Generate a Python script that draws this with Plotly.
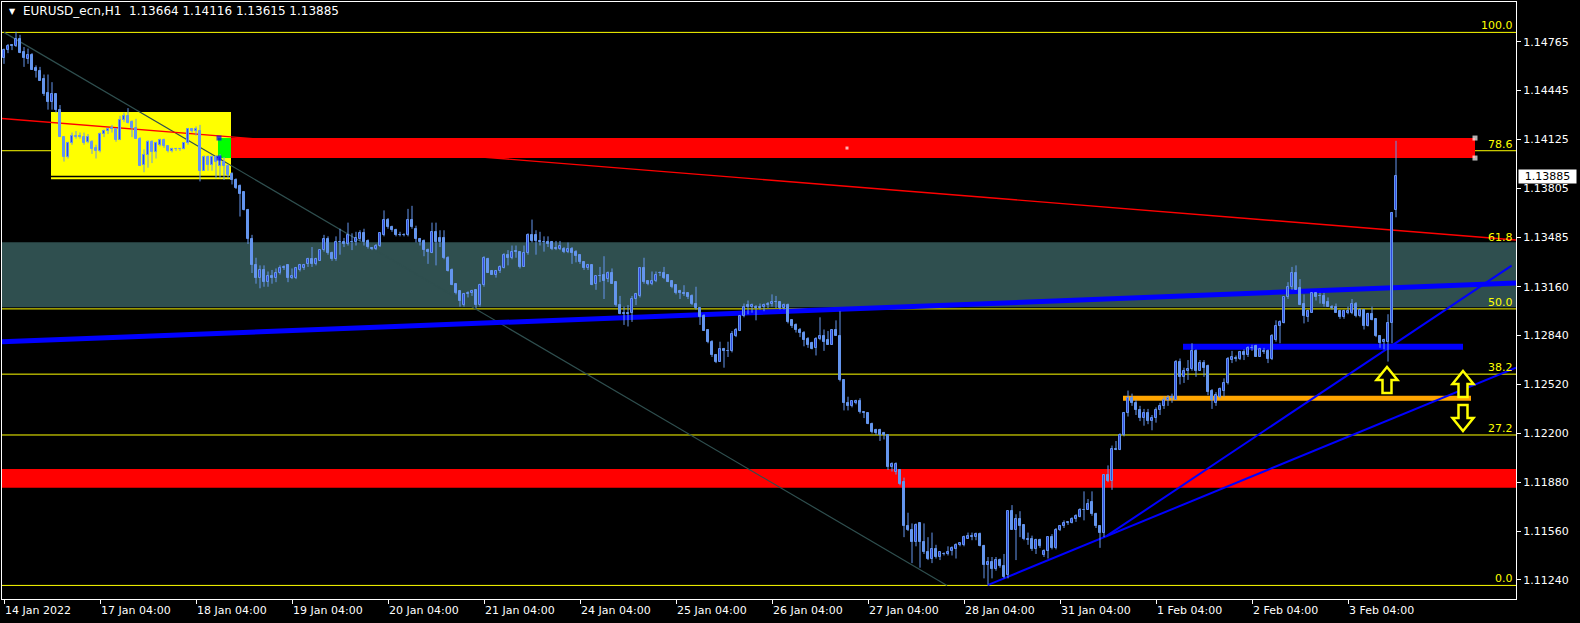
import plotly.graph_objects as go

# ---------------- data (EURUSD_ecn, H1) ----------------
opens = [
    1.1466, 1.1471, 1.1474, 1.1474, 1.1478, 1.1470, 1.1465, 1.1468, 1.1459, 1.1457,
    1.1452, 1.1443, 1.1437, 1.1442, 1.1432, 1.1414, 1.1401, 1.1410, 1.1415, 1.1414,
    1.1414, 1.1411, 1.1411, 1.1407, 1.1405, 1.1416, 1.1418, 1.1419, 1.1419, 1.1412,
    1.1425, 1.1428, 1.1424, 1.1420, 1.1413, 1.1396, 1.1402, 1.1411, 1.1404, 1.1409,
    1.1412, 1.1408, 1.1405, 1.1406, 1.1406, 1.1406, 1.1410, 1.1419, 1.1418, 1.1418,
    1.1392, 1.1401, 1.1396, 1.1401, 1.1395, 1.1398, 1.1395, 1.1390, 1.1386, 1.1382,
    1.1378, 1.1366, 1.1347, 1.1330, 1.1322, 1.1327, 1.1319, 1.1323, 1.1322, 1.1325,
    1.1328, 1.1330, 1.1322, 1.1322, 1.1327, 1.1328, 1.1331, 1.1334, 1.1331, 1.1333,
    1.1340, 1.1347, 1.1338, 1.1334, 1.1345, 1.1345, 1.1344, 1.1345, 1.1345, 1.1347,
    1.1351, 1.1346, 1.1341, 1.1341, 1.1343, 1.1350, 1.1360, 1.1355, 1.1353, 1.1350,
    1.1350, 1.1350, 1.1360, 1.1354, 1.1347, 1.1346, 1.1340, 1.1338, 1.1352, 1.1348,
    1.1348, 1.1335, 1.1327, 1.1318, 1.1313, 1.1304, 1.1311, 1.1312, 1.1314, 1.1304,
    1.1317, 1.1334, 1.1326, 1.1324, 1.1326, 1.1328, 1.1337, 1.1335, 1.1339, 1.1339,
    1.1329, 1.1338, 1.1350, 1.1350, 1.1346, 1.1345, 1.1345, 1.1345, 1.1341, 1.1341,
    1.1341, 1.1339, 1.1341, 1.1339, 1.1337, 1.1332, 1.1328, 1.1330, 1.1318, 1.1323,
    1.1324, 1.1321, 1.1325, 1.1319, 1.1304, 1.1298, 1.1298, 1.1299, 1.1308, 1.1310,
    1.1328, 1.1320, 1.1318, 1.1320, 1.1325, 1.1325, 1.1324, 1.1320, 1.1317, 1.1313,
    1.1312, 1.1312, 1.1310, 1.1305, 1.1302, 1.1297, 1.1288, 1.1280, 1.1271, 1.1267,
    1.1275, 1.1274, 1.1274, 1.1284, 1.1287, 1.1297, 1.1304, 1.1303, 1.1303, 1.1302,
    1.1303, 1.1304, 1.1305, 1.1306, 1.1306, 1.1302, 1.1304, 1.1294, 1.1291, 1.1288,
    1.1286, 1.1282, 1.1279, 1.1276, 1.1282, 1.1284, 1.1281, 1.1278, 1.1288, 1.1284,
    1.1255, 1.1240, 1.1238, 1.1240, 1.1241, 1.1234, 1.1233, 1.1226, 1.1222, 1.1222,
    1.1220, 1.1219, 1.1198, 1.1195, 1.1196, 1.1188, 1.1159, 1.1157, 1.1149, 1.1161,
    1.1149, 1.1142, 1.1138, 1.1144, 1.1139, 1.1141, 1.1141, 1.1143, 1.1144, 1.1147,
    1.1147, 1.1151, 1.1152, 1.1152, 1.1154, 1.1146, 1.1134, 1.1136, 1.1131, 1.1137,
    1.1133, 1.1127, 1.1169, 1.1157, 1.1164, 1.1160, 1.1150, 1.1151, 1.1144, 1.1150,
    1.1140, 1.1143, 1.1152, 1.1145, 1.1157, 1.1159, 1.1161, 1.1161, 1.1164, 1.1165,
    1.1170, 1.1170, 1.1175, 1.1167, 1.1159, 1.1155, 1.1193, 1.1189, 1.1210, 1.1209,
    1.1219, 1.1233, 1.1243, 1.1240, 1.1235, 1.1230, 1.1233, 1.1228, 1.1230, 1.1235,
    1.1238, 1.1242, 1.1243, 1.1242, 1.1267, 1.1257, 1.1261, 1.1262, 1.1274, 1.1261,
    1.1266, 1.1264, 1.1248, 1.1240, 1.1244, 1.1248, 1.1253, 1.1268, 1.1269, 1.1269,
    1.1273, 1.1271, 1.1276, 1.1277, 1.1270, 1.1274, 1.1274, 1.1269, 1.1281, 1.1290,
    1.1292, 1.1309, 1.1316, 1.1325, 1.1315, 1.1305, 1.1296, 1.1299, 1.1312, 1.1310,
    1.1310, 1.1306, 1.1303, 1.1303, 1.1300, 1.1296, 1.1299, 1.1299, 1.1305, 1.1297,
    1.1301, 1.1290, 1.1298, 1.1295, 1.1284, 1.1280, 1.1280, 1.1292, 1.13664,
]
highs = [
    1.1472, 1.1475, 1.1475, 1.1483, 1.1481, 1.1473, 1.1472, 1.1469, 1.1461, 1.1460,
    1.1455, 1.1455, 1.1450, 1.1442, 1.1435, 1.1414, 1.1411, 1.1417, 1.1418, 1.1417,
    1.1417, 1.1416, 1.1412, 1.1409, 1.1417, 1.1419, 1.1420, 1.1422, 1.1419, 1.1428,
    1.1430, 1.1433, 1.1425, 1.1426, 1.1414, 1.1406, 1.1412, 1.1412, 1.1411, 1.1413,
    1.1413, 1.1408, 1.1407, 1.1407, 1.1407, 1.1410, 1.1420, 1.1420, 1.1421, 1.1422,
    1.1402, 1.1402, 1.1402, 1.1402, 1.1403, 1.1401, 1.1396, 1.1391, 1.1387, 1.1383,
    1.1378, 1.1367, 1.1350, 1.1335, 1.1330, 1.1330, 1.1326, 1.1327, 1.1328, 1.1330,
    1.1330, 1.1330, 1.1328, 1.1329, 1.1331, 1.1331, 1.1335, 1.1342, 1.1335, 1.1340,
    1.1350, 1.1349, 1.1339, 1.1349, 1.1354, 1.1348, 1.1358, 1.1351, 1.1352, 1.1353,
    1.1354, 1.1347, 1.1342, 1.1344, 1.1351, 1.1366, 1.1361, 1.1356, 1.1354, 1.1352,
    1.1351, 1.1367, 1.1369, 1.1356, 1.1348, 1.1347, 1.1341, 1.1358, 1.1358, 1.1353,
    1.1353, 1.1336, 1.1328, 1.1318, 1.1313, 1.1312, 1.1313, 1.1314, 1.1314, 1.1318,
    1.1336, 1.1335, 1.1327, 1.1327, 1.1330, 1.1338, 1.1340, 1.1343, 1.1343, 1.1339,
    1.1343, 1.1351, 1.1360, 1.1353, 1.1352, 1.1349, 1.1349, 1.1346, 1.1346, 1.1346,
    1.1342, 1.1345, 1.1342, 1.1340, 1.1337, 1.1332, 1.1331, 1.1330, 1.1323, 1.1329,
    1.1336, 1.1326, 1.1328, 1.1319, 1.1310, 1.1303, 1.1304, 1.1310, 1.1312, 1.1329,
    1.1335, 1.1320, 1.1326, 1.1326, 1.1326, 1.1329, 1.1324, 1.1320, 1.1317, 1.1314,
    1.1317, 1.1312, 1.1311, 1.1316, 1.1302, 1.1298, 1.1288, 1.1281, 1.1272, 1.1280,
    1.1276, 1.1280, 1.1287, 1.1289, 1.1297, 1.1305, 1.1307, 1.1305, 1.1304, 1.1305,
    1.1305, 1.1306, 1.1311, 1.1310, 1.1306, 1.1305, 1.1305, 1.1294, 1.1292, 1.1289,
    1.1287, 1.1283, 1.1280, 1.1283, 1.1296, 1.1288, 1.1287, 1.1288, 1.1294, 1.1300,
    1.1255, 1.1244, 1.1241, 1.1242, 1.1243, 1.1234, 1.1233, 1.1227, 1.1223, 1.1223,
    1.1221, 1.1219, 1.1201, 1.1201, 1.1196, 1.1191, 1.1168, 1.1161, 1.1161, 1.1161,
    1.1161, 1.1152, 1.1155, 1.1147, 1.1142, 1.1142, 1.1146, 1.1146, 1.1148, 1.1148,
    1.1153, 1.1155, 1.1155, 1.1155, 1.1155, 1.1147, 1.1139, 1.1139, 1.1139, 1.1138,
    1.1141, 1.1169, 1.1173, 1.1167, 1.1169, 1.1160, 1.1155, 1.1153, 1.1151, 1.1151,
    1.1144, 1.1152, 1.1154, 1.1158, 1.1160, 1.1163, 1.1162, 1.1165, 1.1167, 1.1171,
    1.1182, 1.1177, 1.1182, 1.1168, 1.1159, 1.1193, 1.1199, 1.1212, 1.1215, 1.1220,
    1.1234, 1.1248, 1.1246, 1.1242, 1.1238, 1.1236, 1.1236, 1.1232, 1.1237, 1.1240,
    1.1244, 1.1245, 1.1246, 1.1268, 1.1269, 1.1263, 1.1268, 1.1279, 1.1275, 1.1268,
    1.1268, 1.1265, 1.1249, 1.1247, 1.1250, 1.1256, 1.1270, 1.1274, 1.1271, 1.1274,
    1.1275, 1.1277, 1.1278, 1.1278, 1.1276, 1.1276, 1.1275, 1.1285, 1.1294, 1.1294,
    1.1309, 1.1319, 1.1329, 1.1330, 1.1321, 1.1311, 1.1301, 1.1312, 1.1312, 1.1312,
    1.1312, 1.1309, 1.1304, 1.1305, 1.1301, 1.1301, 1.1303, 1.1308, 1.1306, 1.1302,
    1.1301, 1.1299, 1.1303, 1.1295, 1.1284, 1.1282, 1.1298, 1.1365, 1.14116,
]
lows = [
    1.1462, 1.1469, 1.1471, 1.1473, 1.1469, 1.1460, 1.1462, 1.1458, 1.1453, 1.1451,
    1.1441, 1.1432, 1.1432, 1.1430, 1.1414, 1.1398, 1.1400, 1.1409, 1.1413, 1.1413,
    1.1409, 1.1410, 1.1403, 1.1400, 1.1404, 1.1414, 1.1416, 1.1417, 1.1411, 1.1412,
    1.1424, 1.1423, 1.1414, 1.1413, 1.1395, 1.1391, 1.1394, 1.1397, 1.1400, 1.1408,
    1.1407, 1.1404, 1.1404, 1.1405, 1.1405, 1.1406, 1.1409, 1.1417, 1.1415, 1.1385,
    1.1392, 1.1392, 1.1392, 1.1387, 1.1387, 1.1386, 1.1387, 1.1383, 1.1380, 1.1362,
    1.1366, 1.1344, 1.1325, 1.1318, 1.1315, 1.1316, 1.1316, 1.1318, 1.1319, 1.1324,
    1.1327, 1.1319, 1.1321, 1.1321, 1.1326, 1.1327, 1.1329, 1.1329, 1.1330, 1.1333,
    1.1339, 1.1337, 1.1333, 1.1333, 1.1337, 1.1342, 1.1343, 1.1340, 1.1343, 1.1346,
    1.1343, 1.1341, 1.1340, 1.1340, 1.1342, 1.1349, 1.1354, 1.1352, 1.1349, 1.1349,
    1.1349, 1.1349, 1.1354, 1.1345, 1.1343, 1.1336, 1.1331, 1.1338, 1.1330, 1.1342,
    1.1334, 1.1326, 1.1317, 1.1311, 1.1303, 1.1303, 1.1309, 1.1310, 1.1302, 1.1303,
    1.1316, 1.1325, 1.1324, 1.1322, 1.1325, 1.1328, 1.1330, 1.1334, 1.1335, 1.1328,
    1.1329, 1.1337, 1.1345, 1.1337, 1.1343, 1.1339, 1.1342, 1.1340, 1.1340, 1.1340,
    1.1338, 1.1338, 1.1331, 1.1332, 1.1331, 1.1327, 1.1327, 1.1317, 1.1314, 1.1319,
    1.1308, 1.1319, 1.1318, 1.1303, 1.1298, 1.1291, 1.1290, 1.1293, 1.1304, 1.1309,
    1.1318, 1.1317, 1.1317, 1.1319, 1.1323, 1.1321, 1.1319, 1.1315, 1.1311, 1.1308,
    1.1310, 1.1308, 1.1304, 1.1301, 1.1291, 1.1287, 1.1279, 1.1270, 1.1266, 1.1267,
    1.1263, 1.1270, 1.1273, 1.1283, 1.1287, 1.1296, 1.1298, 1.1299, 1.1294, 1.1301,
    1.1300, 1.1302, 1.1303, 1.1302, 1.1301, 1.1301, 1.1292, 1.1289, 1.1286, 1.1283,
    1.1277, 1.1276, 1.1275, 1.1271, 1.1281, 1.1274, 1.1278, 1.1278, 1.1284, 1.1254,
    1.1235, 1.1235, 1.1237, 1.1239, 1.1233, 1.1230, 1.1226, 1.1220, 1.1219, 1.1215,
    1.1216, 1.1196, 1.1195, 1.1193, 1.1186, 1.1152, 1.1156, 1.1135, 1.1146, 1.1132,
    1.1141, 1.1137, 1.1135, 1.1138, 1.1137, 1.1140, 1.1140, 1.1140, 1.1138, 1.1146,
    1.1146, 1.1151, 1.1150, 1.1150, 1.1146, 1.1125, 1.1121, 1.1125, 1.1130, 1.1132,
    1.1125, 1.1125, 1.1157, 1.1137, 1.1152, 1.1150, 1.1147, 1.1143, 1.1141, 1.1145,
    1.1139, 1.1138, 1.1144, 1.1144, 1.1156, 1.1158, 1.1160, 1.1161, 1.1162, 1.1165,
    1.1163, 1.1170, 1.1166, 1.1158, 1.1145, 1.1152, 1.1188, 1.1183, 1.1209, 1.1209,
    1.1218, 1.1231, 1.1238, 1.1232, 1.1228, 1.1225, 1.1226, 1.1222, 1.1227, 1.1232,
    1.1236, 1.1238, 1.1240, 1.1242, 1.1252, 1.1253, 1.1255, 1.1261, 1.1257, 1.1261,
    1.1257, 1.1245, 1.1236, 1.1238, 1.1243, 1.1244, 1.1252, 1.1266, 1.1267, 1.1268,
    1.1268, 1.1270, 1.1274, 1.1270, 1.1270, 1.1272, 1.1266, 1.1268, 1.1280, 1.1279,
    1.1292, 1.1308, 1.1314, 1.1314, 1.1304, 1.1292, 1.1293, 1.1299, 1.1307, 1.1305,
    1.1303, 1.1303, 1.1301, 1.1299, 1.1295, 1.1295, 1.1298, 1.1298, 1.1296, 1.1296,
    1.1288, 1.1290, 1.1294, 1.1283, 1.1276, 1.1275, 1.1267, 1.1279, 1.13615,
]
closes = [
    1.1471, 1.1474, 1.1474, 1.1478, 1.1469, 1.1466, 1.1468, 1.1458, 1.1457, 1.1451,
    1.1442, 1.1437, 1.1442, 1.1432, 1.1414, 1.1401, 1.1410, 1.1415, 1.1414, 1.1415,
    1.1410, 1.1414, 1.1406, 1.1405, 1.1416, 1.1418, 1.1419, 1.1420, 1.1412, 1.1425,
    1.1428, 1.1423, 1.1420, 1.1413, 1.1395, 1.1402, 1.1411, 1.1404, 1.1410, 1.1412,
    1.1408, 1.1405, 1.1406, 1.1406, 1.1406, 1.1410, 1.1419, 1.1418, 1.1419, 1.1392,
    1.1401, 1.1396, 1.1401, 1.1398, 1.1401, 1.1395, 1.1389, 1.1386, 1.1381, 1.1377,
    1.1366, 1.1347, 1.1330, 1.1322, 1.1327, 1.1319, 1.1323, 1.1322, 1.1325, 1.1328,
    1.1329, 1.1322, 1.1323, 1.1328, 1.1330, 1.1330, 1.1334, 1.1331, 1.1334, 1.1340,
    1.1347, 1.1338, 1.1334, 1.1345, 1.1345, 1.1344, 1.1350, 1.1345, 1.1348, 1.1351,
    1.1345, 1.1342, 1.1341, 1.1343, 1.1351, 1.1360, 1.1355, 1.1353, 1.1350, 1.1350,
    1.1350, 1.1360, 1.1355, 1.1347, 1.1345, 1.1340, 1.1339, 1.1352, 1.1345, 1.1345,
    1.1335, 1.1326, 1.1317, 1.1312, 1.1307, 1.1311, 1.1312, 1.1313, 1.1304, 1.1317,
    1.1335, 1.1325, 1.1324, 1.1326, 1.1329, 1.1337, 1.1335, 1.1339, 1.1339, 1.1329,
    1.1338, 1.1350, 1.1346, 1.1346, 1.1345, 1.1345, 1.1344, 1.1341, 1.1341, 1.1343,
    1.1339, 1.1341, 1.1338, 1.1336, 1.1332, 1.1328, 1.1330, 1.1317, 1.1323, 1.1323,
    1.1320, 1.1325, 1.1318, 1.1304, 1.1298, 1.1299, 1.1299, 1.1308, 1.1311, 1.1328,
    1.1319, 1.1318, 1.1320, 1.1324, 1.1325, 1.1322, 1.1319, 1.1316, 1.1312, 1.1312,
    1.1311, 1.1309, 1.1305, 1.1302, 1.1296, 1.1287, 1.1280, 1.1271, 1.1267, 1.1275,
    1.1274, 1.1274, 1.1285, 1.1288, 1.1297, 1.1303, 1.1303, 1.1304, 1.1302, 1.1303,
    1.1304, 1.1305, 1.1306, 1.1306, 1.1302, 1.1304, 1.1293, 1.1290, 1.1288, 1.1286,
    1.1281, 1.1278, 1.1275, 1.1282, 1.1284, 1.1280, 1.1278, 1.1288, 1.1284, 1.1255,
    1.1240, 1.1238, 1.1241, 1.1241, 1.1234, 1.1233, 1.1226, 1.1221, 1.1220, 1.1219,
    1.1219, 1.1198, 1.1200, 1.1200, 1.1187, 1.1159, 1.1157, 1.1149, 1.1160, 1.1149,
    1.1142, 1.1138, 1.1144, 1.1139, 1.1142, 1.1141, 1.1142, 1.1145, 1.1147, 1.1148,
    1.1152, 1.1153, 1.1153, 1.1154, 1.1146, 1.1134, 1.1136, 1.1131, 1.1137, 1.1133,
    1.1126, 1.1169, 1.1157, 1.1164, 1.1159, 1.1151, 1.1151, 1.1144, 1.1150, 1.1146,
    1.1143, 1.1152, 1.1145, 1.1157, 1.1159, 1.1161, 1.1162, 1.1164, 1.1166, 1.1170,
    1.1170, 1.1174, 1.1167, 1.1159, 1.1155, 1.1193, 1.1189, 1.1210, 1.1209, 1.1219,
    1.1233, 1.1243, 1.1240, 1.1235, 1.1230, 1.1233, 1.1228, 1.1230, 1.1235, 1.1238,
    1.1242, 1.1243, 1.1244, 1.1267, 1.1257, 1.1261, 1.1262, 1.1274, 1.1261, 1.1266,
    1.1263, 1.1247, 1.1242, 1.1245, 1.1249, 1.1253, 1.1269, 1.1270, 1.1269, 1.1273,
    1.1271, 1.1276, 1.1276, 1.1270, 1.1275, 1.1273, 1.1269, 1.1284, 1.1290, 1.1293,
    1.1309, 1.1316, 1.1325, 1.1314, 1.1304, 1.1297, 1.1300, 1.1312, 1.1309, 1.1310,
    1.1305, 1.1303, 1.1302, 1.1299, 1.1296, 1.1300, 1.1300, 1.1305, 1.1297, 1.1301,
    1.1290, 1.1298, 1.1294, 1.1284, 1.1279, 1.1281, 1.1292, 1.1364, 1.13885,
]
assert len(opens) == len(highs) == len(lows) == len(closes), (len(opens), len(highs), len(lows), len(closes))

# time axis: bar index of each date label
tick_bars = [0, 24, 48, 72, 96, 120, 144, 168, 192, 216, 240, 264, 288, 312, 336]
tick_labels = ["14 Jan 2022", "17 Jan 04:00", "18 Jan 04:00", "19 Jan 04:00", "20 Jan 04:00",
               "21 Jan 04:00", "24 Jan 04:00", "25 Jan 04:00", "26 Jan 04:00", "27 Jan 04:00",
               "28 Jan 04:00", "31 Jan 04:00", "1 Feb 04:00", "2 Feb 04:00", "3 Feb 04:00"]
price_ticks = [1.11240, 1.11560, 1.11880, 1.12200, 1.12520, 1.12840,
               1.13160, 1.13485, 1.13805, 1.14125, 1.14445, 1.14765]

# Fibonacci retracement
fib_low, fib_high = 1.11204, 1.14826
fib_levels = [0.0, 27.2, 38.2, 50.0, 61.8, 78.6, 100.0]
fib_anchor_bars = [0.0, 235.75]

# zones (bar0, bar1, price0, price1)
teal_zone = (-0.5, 378.0, 1.13025, 1.13451)
red_low_zone = (-0.5, 378.0, 1.11844, 1.11966)
red_high_zone = (53.75, 367.75, 1.14003, 1.14134)
green_zone = (53.5, 56.75, 1.14003, 1.14134)
yellow_zone = (11.75, 56.75, 1.13887, 1.14304)
yellow_base_line = (11.75, 56.75, 1.13871)

# trend lines (bar0, price0, bar1, price1)
red_trend = (-0.5, 1.14262, 378.0, 1.13466)
blue_thick_trend = (-0.5, 1.12800, 378.0, 1.13184)
blue_level = (294.75, 1.12767, 364.75, 1.12767)
orange_level = (279.75, 1.12429, 366.75, 1.12429)
support_b = (245.9, 1.11206, 378.0, 1.12630)
support_a = (275.5, 1.11525, 376.9, 1.13298)

# arrows (bar, price, direction)
arrow_bars = [345.75, 364.75, 364.75]
arrow_prices = [1.12549, 1.12523, 1.12300]
arrow_dirs = ["up", "up", "down"]

symbol_title = "EURUSD_ecn,H1\u00a0\u00a01.13664 1.14116 1.13615 1.13885"

# ---------------- figure ----------------
CANDLE = "#6495ED"
BULL_FILL = "#0000CD"
YELLOW = "#FFFF00"

n = len(closes)
idx = list(range(n))
body_base = [min(o, c) for o, c in zip(opens, closes)]
body_h = [max(abs(c - o), 0.000012) for o, c in zip(opens, closes)]
fills = [BULL_FILL if c > o else CANDLE for o, c in zip(opens, closes)]

wx, wy = [], []
for i in idx:
    wx += [i, i, None]
    wy += [lows[i], highs[i], None]

fig = go.Figure()
fig.add_trace(go.Scatter(x=wx, y=wy, mode="lines", line=dict(color=CANDLE, width=1),
                         hoverinfo="skip", showlegend=False))
fig.add_trace(go.Bar(x=idx, y=body_h, base=body_base, width=0.5,
                     marker=dict(color=fills, line=dict(color=CANDLE, width=1)),
                     hoverinfo="skip", showlegend=False))

# selection handles of the red rectangle
hx = [red_high_zone[0], red_high_zone[0], red_high_zone[1], red_high_zone[1],
      (red_high_zone[0] + red_high_zone[1]) / 2]
hy = [red_high_zone[3], red_high_zone[2], red_high_zone[3], red_high_zone[2],
      (red_high_zone[2] + red_high_zone[3]) / 2]
fig.add_trace(go.Scatter(x=hx, y=hy, mode="markers",
                         marker=dict(symbol="square", size=[5, 5, 5, 5, 3],
                                     color=["#0000FF", "#0000FF", "white", "white", "white"],
                                     line=dict(width=0)),
                         hoverinfo="skip", showlegend=False))

shapes = []


def rect(z, color):
    shapes.append(dict(type="rect", xref="x", yref="y", x0=z[0], x1=z[1], y0=z[2], y1=z[3],
                       fillcolor=color, line=dict(width=0), layer="below"))


def seg(t, color, width, dash="solid"):
    shapes.append(dict(type="line", xref="x", yref="y", x0=t[0], y0=t[1], x1=t[2], y1=t[3],
                       line=dict(color=color, width=width, dash=dash), layer="below"))


rect(teal_zone, "#2F4F4F")
rect(red_low_zone, "#FF0000")
rect(red_high_zone, "#FF0000")
rect(yellow_zone, YELLOW)
seg((yellow_base_line[0], yellow_base_line[2], yellow_base_line[1], yellow_base_line[2]), YELLOW, 2)
rect(green_zone, "#00FF00")

fib_prices = [fib_low + lv / 100.0 * (fib_high - fib_low) for lv in fib_levels]
for p in fib_prices:
    shapes.append(dict(type="line", xref="paper", yref="y", x0=0, x1=1, y0=p, y1=p,
                       line=dict(color=YELLOW, width=1), layer="below"))
seg((fib_anchor_bars[0], fib_high, fib_anchor_bars[1], fib_low), "#2F4F4F", 1.2)
seg(red_trend, "#FF0000", 1.4)
seg(blue_thick_trend, "#0000FF", 5)
seg(orange_level, "#FFA500", 5)
seg(blue_level, "#0000FF", 6)
seg(support_b, "#0000FF", 2)
seg(support_a, "#0000FF", 2)

# hollow arrow glyphs (pixel outline, anchored at each arrow's bar/price)
UP_PATH = "M 0 13 L 10.5 0 L 4.5 0 L 4.5 -13 L -4.5 -13 L -4.5 0 L -10.5 0 Z"
DOWN_PATH = "M 0 -13 L 10.5 0 L 4.5 0 L 4.5 13 L -4.5 13 L -4.5 0 L -10.5 0 Z"
for b, p, d in zip(arrow_bars, arrow_prices, arrow_dirs):
    shapes.append(dict(type="path", xref="x", yref="y", xsizemode="pixel", ysizemode="pixel",
                       xanchor=b, yanchor=p, path=UP_PATH if d == "up" else DOWN_PATH,
                       fillcolor="black", line=dict(color=YELLOW, width=2.5), layer="above"))

ann = []
for b, lab in zip(tick_bars, tick_labels):
    ann.append(dict(x=b, xref="x", y=0, yref="paper", xanchor="left", yanchor="top", yshift=-3,
                    xshift=-1, text=lab, showarrow=False, font=dict(color="white", size=11)))
for lv, p in zip(fib_levels, fib_prices):
    ann.append(dict(x=1, xref="paper", y=p, yref="y", xanchor="right", yanchor="bottom",
                    xshift=-1, yshift=-2, text=f"{lv:.1f}", showarrow=False,
                    font=dict(color=YELLOW, size=11)))
# current price label
ann.append(dict(x=1, xref="paper", y=closes[-1], yref="y", xanchor="left", yanchor="middle",
                xshift=2, text=f"{closes[-1]:.5f}", showarrow=False, bgcolor="white",
                width=57, height=13, borderpad=0, font=dict(color="black", size=11)))
# symbol header
ann.append(dict(x=0.0033, xref="paper", y=1, yref="paper", xanchor="left", yanchor="top",
                yshift=-3, text="\u25bc", showarrow=False, font=dict(color="white", size=8)))
ann.append(dict(x=0.01255, xref="paper", y=1, yref="paper", xanchor="left", yanchor="top",
                yshift=0, text=symbol_title, showarrow=False, font=dict(color="white", size=12)))

fig.update_layout(
    width=1580, height=623,
    margin=dict(l=2, r=64, t=2, b=24),
    paper_bgcolor="black", plot_bgcolor="black",
    font=dict(family="DejaVu Sans", size=11, color="white"),
    showlegend=False, hovermode=False, bargap=0,
    shapes=shapes, annotations=ann,
    xaxis=dict(range=[-0.5, 378.0], tickvals=tick_bars, showticklabels=False,
               ticks="outside", ticklen=4, tickcolor="white", showline=True, linecolor="white",
               linewidth=1, mirror=True, showgrid=False, zeroline=False, fixedrange=True),
    yaxis=dict(range=[1.11115, 1.15025], side="right", tickvals=price_ticks,
               ticktext=[f"{p:.5f}" for p in price_ticks], ticks="outside", ticklen=4,
               tickcolor="white", showline=True, linecolor="white", linewidth=1, mirror=True,
               showgrid=False, zeroline=False, tickfont=dict(color="white", size=11),
               fixedrange=True),
)

fig.write_html("out.html", config={"displayModeBar": False},
               post_script="document.body.style.margin='0';document.body.style.overflow='hidden';")
